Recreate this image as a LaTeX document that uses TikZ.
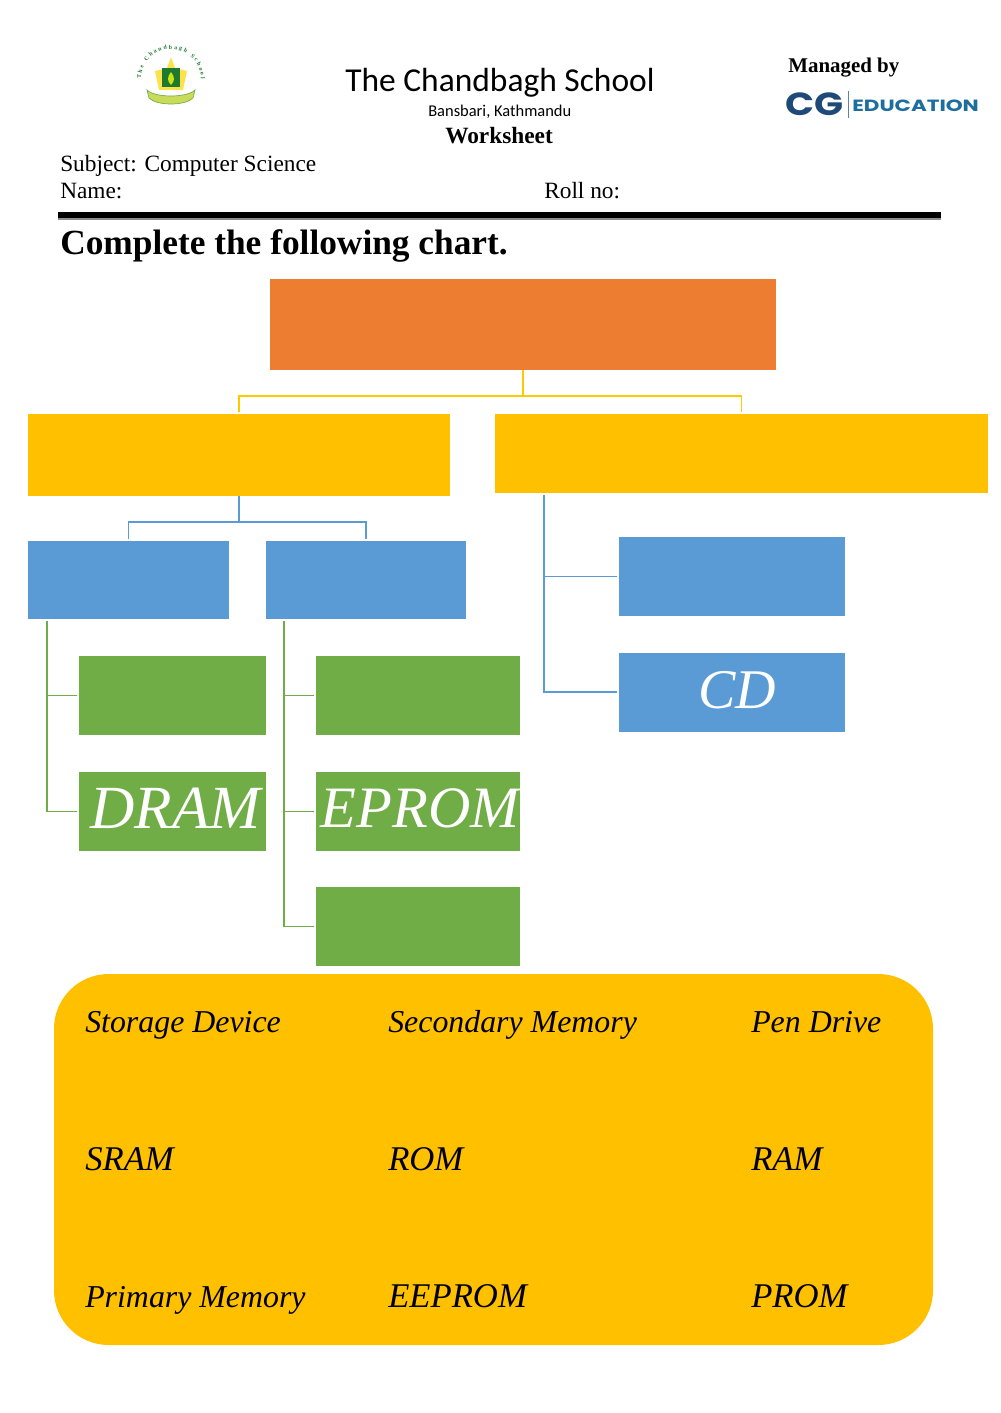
\documentclass[tikz,border=0pt]{standalone}
\usepackage{fontspec}
\usepackage{graphicx}
\setmainfont{Liberation Serif}
\newfontfamily\carlito{Carlito}
\newfontfamily\logofont{Poppins}
\usetikzlibrary{decorations.text}
\definecolor{orangeb}{HTML}{ED7D31}
\definecolor{goldb}{HTML}{FFC000}
\definecolor{blueb}{HTML}{5B9BD5}
\definecolor{greenb}{HTML}{70AD47}
\definecolor{cgnavy}{HTML}{1F4A78}
\definecolor{cgteal}{HTML}{1C6E9E}
\definecolor{logogreen}{HTML}{1E7A2E}
\definecolor{ribbon}{HTML}{C9DC5A}
\tikzset{
 box/.style n args={3}{draw=none,fill=#1,minimum width=#2*0.75pt,minimum height=#3*0.75pt,inner sep=0pt,text=white,font=\itshape},
 lbl/.style={anchor=base west,inner sep=0pt,text=black},
 word/.style={anchor=base west,inner sep=0pt,text=black,font=\fontsize{23.9}{24}\selectfont\itshape},
 capword/.style={anchor=base west,inner sep=0pt,text=black,font=\fontsize{26}{26}\selectfont\itshape},
 linkgold/.style={draw=goldb!85!yellow,line width=1.2pt},
 linkblue/.style={draw=blueb,line width=1.2pt},
 linkgreen/.style={draw=greenb,line width=1.2pt},
}
\begin{document}
\begin{tikzpicture}[x=0.75pt,y=-0.75pt]
\useasboundingbox (0,0) rectangle (1000,1413);
% school crest
\fill[yellow!75!orange!70] (171,57) -- (175,68) -- (187,71) -- (183,90) -- (159,90) -- (155,71) -- (167,68) -- cycle;
\fill[logogreen] (162,68) rectangle (180,87);
\fill[yellow!80!green] (171,72) .. controls (175,77) and (175,81) .. (171,85) .. controls (167,81) and (167,77) .. (171,72) -- cycle;
\draw[draw=greenb,fill=ribbon,line width=0.5pt] (147,90) .. controls (155,98) and (187,98) .. (195,90) -- (193,98) .. controls (185,106) and (157,106) .. (149,98) -- cycle;
\path[postaction={decorate,decoration={text along path,text align=fit to path,text={|\fontsize{4.4}{4.4}\selectfont\bfseries\color{logogreen}|The Chandbagh School}}}] (141,79) arc[start angle=180,end angle=360,radius=30];
% header texts
\node[lbl,font=\carlito\fontsize{25.1}{25}\selectfont] (title) at (345,91) {The Chandbagh School};
\node[lbl,font=\carlito\fontsize{12.35}{12}\selectfont] (addr) at (428,117) {Bansbari, Kathmandu};
\node[lbl,font=\fontsize{17.5}{17.5}\selectfont\bfseries] (ws) at (445,143) {Worksheet};
\node[lbl,font=\fontsize{15.7}{16}\selectfont\bfseries] (mg) at (788,73) {Managed by};
\node[lbl,text=cgnavy,font=\logofont\bfseries\fontsize{24}{24}\selectfont] (cg) at (785,115) {\scalebox{1.19}[1]{CG}};
\draw[cgnavy!70,line width=0.6pt] (848,91) -- (848,118);
\node[lbl,text=cgteal,font=\logofont\bfseries\fontsize{12.2}{12.2}\selectfont] (edu) at (852,111) {\scalebox{1.32}[1]{EDUCATION}};
\node[lbl,font=\fontsize{17.5}{17.5}\selectfont] (subj) at (60,171) {Subject: Computer Science};
\node[lbl,font=\fontsize{17.5}{17.5}\selectfont] (name) at (60,198) {Name:};
\node[lbl,font=\fontsize{17.5}{17.5}\selectfont] (roll) at (544,198) {Roll no:};
\fill[black!45] (58,217) rectangle (941,220);
\fill[black] (58,212) rectangle (941,218);
\node[lbl,font=\fontsize{26.5}{26.5}\selectfont\bfseries] (head) at (60,254) {Complete the following chart.};
% chart boxes
\node[box={orangeb}{506}{91}] (root) at (523,324.5) {};
\node[box={goldb}{422}{82}] (yl) at (239,455) {};
\node[box={goldb}{493}{79}] (yr) at (741.5,453.5) {};
\node[box={blueb}{201}{78}] (b1) at (128.5,580) {};
\node[box={blueb}{200}{78}] (b2) at (366,580) {};
\node[box={blueb}{226}{79}] (b3) at (732,576.5) {};
\node[box={blueb}{226}{79},font=\itshape\fontsize{42}{42}\selectfont] (b4) at (732,692) {\hspace*{7.5pt}\raisebox{3pt}{CD}};
\node[box={greenb}{187}{79}] (g1) at (172.5,695.5) {};
\node[box={greenb}{187}{79},font=\itshape\fontsize{46}{46}\selectfont] (g2) at (172.5,811.5) {\hspace*{4.5pt}\raisebox{4.5pt}{DRAM}};
\node[box={greenb}{204}{79}] (g3) at (418,695.5) {};
\node[box={greenb}{204}{79},font=\itshape\fontsize{44}{44}\selectfont] (g4) at (418,811.5) {\hspace*{3pt}\raisebox{4.5pt}{EPROM}};
\node[box={greenb}{204}{79}] (g5) at (418,926.5) {};
% connectors
\coordinate (ty) at (544,495);
\coordinate (t1) at (47,621);
\coordinate (t2) at (284,621);
\draw[linkgold,shorten >=1.5pt] (root.south) -- ++(0,26) -| (yl.north);
\draw[linkgold,shorten >=1.5pt] (root.south) -- ++(0,26) -| (yr.north);
\draw[linkblue,shorten >=1.5pt] (yl.south) -- ++(0,26) -| (b1.north);
\draw[linkblue,shorten >=1.5pt] (yl.south) -- ++(0,26) -| (b2.north);
\draw[linkblue,shorten >=1.5pt] (ty) |- (b3.west);
\draw[linkblue,shorten >=1.5pt] (ty) |- (b4.west);
\draw[linkgreen,shorten >=1.5pt] (t1) |- (g1.west);
\draw[linkgreen,shorten >=1.5pt] (t1) |- (g2.west);
\draw[linkgreen,shorten >=1.5pt] (t2) |- (g3.west);
\draw[linkgreen,shorten >=1.5pt] (t2) |- (g4.west);
\draw[linkgreen,shorten >=1.5pt] (t2) |- (g5.west);
% word bank
\fill[goldb,rounded corners=41pt] (54,974) rectangle (933,1345);
\node[word] (w1) at (85,1032) {Storage Device};
\node[word] (w2) at (388,1032) {Secondary Memory};
\node[word] (w3) at (751,1032) {Pen Drive};
\node[capword] (w4) at (85,1170) {SRAM};
\node[capword] (w5) at (388,1170) {ROM};
\node[capword] (w6) at (751,1170) {RAM};
\node[word] (w7) at (85,1307) {Primary Memory};
\node[capword] (w8) at (388,1307) {EEPROM};
\node[capword] (w9) at (751,1307) {PROM};
\end{tikzpicture}
\end{document}
